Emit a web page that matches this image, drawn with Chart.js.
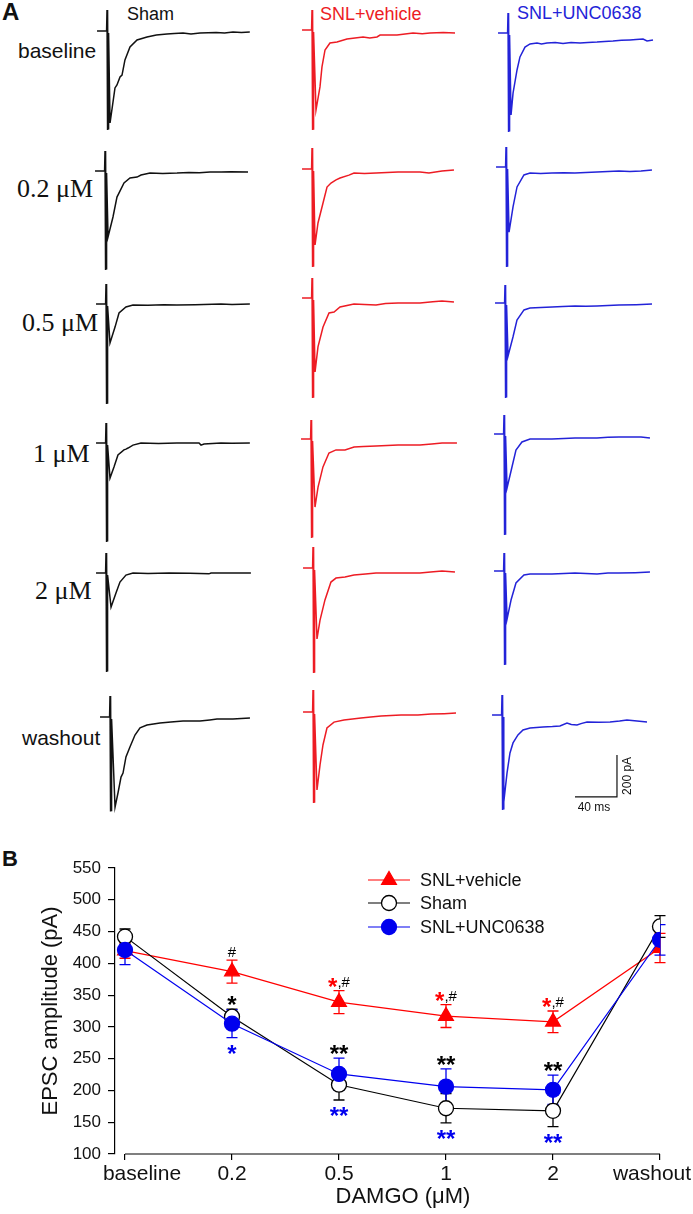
<!DOCTYPE html>
<html><head><meta charset="utf-8">
<script src="https://cdn.jsdelivr.net/npm/chart.js@4.4.1/dist/chart.umd.min.js"></script>
<style>
html,body{margin:0;padding:0;background:#fff}
body{position:relative;width:693px;height:1214px;overflow:hidden;font-family:"Liberation Sans",Arial,sans-serif;color:#111}
.t{position:absolute;white-space:nowrap;line-height:1}
.s{font-family:"Liberation Serif","Times New Roman",serif;font-size:26px}
canvas{position:absolute}
</style></head><body>
<div class="t" style="left:2px;top:0px;font-size:24px;font-weight:bold">A</div>
<div class="t" style="left:127px;top:5px;font-size:18px">Sham</div>
<div class="t" style="left:320px;top:5px;font-size:18px;color:#ed1c24">SNL+vehicle</div>
<div class="t" style="left:517px;top:4px;font-size:18px;color:#2323d8">SNL+UNC0638</div>
<div class="t" style="left:18px;top:40px;font-size:21px">baseline</div>
<div class="t s" style="left:17px;top:176px">0.2 μM</div>
<div class="t s" style="left:22px;top:310px">0.5 μM</div>
<div class="t s" style="left:33px;top:441px">1 μM</div>
<div class="t s" style="left:35px;top:578px">2 μM</div>
<div class="t" style="left:22px;top:727px;font-size:21px">washout</div>
<div class="t" style="left:2px;top:848px;font-size:22px;font-weight:bold">B</div>
<canvas id="panelB" width="693" height="364" style="left:0;top:850px"></canvas>
<script>
// ---------------- DATA: panel A traces (time in ms, current in pA) ----------------
const GROUPS = ['Sham', 'SNL+vehicle', 'SNL+UNC0638'];
const CONDITIONS = ['baseline', '0.2 μM', '0.5 μM', '1 μM', '2 μM', 'washout'];
const PRE_BASELINE_MS = [-9.5, -0.4];            // short pre-stimulus baseline
const SCALEBAR = [40, 200];                        // 40 ms, 200 pA

// stimulus artifact [peak up, peak down] in pA
const SHAM_ARTIFACT = [[100,-471],[95,-471],[95,-476],[95,-471],[95,-471],[100,-450]];
const VEH_ARTIFACT  = [[95,-476],[100,-467],[95,-476],[90,-471],[100,-500],[105,-433]];
const UNC_ARTIFACT  = [[95,-471],[95,-476],[86,-452],[90,-481],[86,-448],[95,-452]];

const SHAM_TRACES = [
 [[2.9,-438],[7.6,-271],[9.5,-257],[12.4,-219],[14.3,-210],[17.1,-138],[21.9,-76],[28.6,-43],[38.1,-29],[47,-19],[57.1,-14],[64,-12],[72.4,-10],[80,-14],[88.6,-10],[104,-7],[112,-9],[120,-5],[128,-7],[136,-5]],
 [[2.9,-314],[7.6,-219],[11.4,-124],[18.1,-57],[23.8,-33],[30.5,-29],[34.3,-19],[42.9,-10],[55,-12],[68.6,-10],[80,-7],[90,-8],[100,-5],[110.5,-5],[120,-4],[136.2,-5]],
 [[3.8,-186],[8.6,-110],[12.4,-43],[19,-14],[25.7,-5],[40,-6],[55,-4],[67.6,-5],[85,-3],[109.5,0],[120,-2],[137,0]],
 [[3.8,-167],[7.6,-114],[11.4,-57],[17.1,-33],[19,-29],[21,-24],[25.7,-10],[33.3,0],[50,-2],[67.6,0],[88.6,0],[90.5,-10],[93.3,-5],[109.5,0],[120,-1],[137,0]],
 [[4.8,-162],[9.5,-95],[13.3,-43],[19,-10],[25.7,0],[40,-2],[60,0],[80,-1],[98,-4],[100,0],[120,0],[138,0]],
 [[4.8,-429],[7.6,-362],[10.5,-286],[12.4,-267],[15.2,-190],[19,-143],[23.8,-86],[28.6,-52],[35.2,-38],[47.6,-29],[58,-24],[69.5,-19],[85.7,-19],[95,-14],[101.9,-10],[117.1,-10],[125,-7],[133.3,-5]]
];
const VEH_TRACES = [
 [[3.8,-381],[7.6,-271],[9.5,-176],[12.4,-95],[17.1,-62],[23.8,-57],[33.3,-43],[48.6,-33],[55,-38],[61.9,-33],[64.8,-24],[81,-24],[96.2,-14],[105,-18],[112.4,-14],[125,-12],[136.2,-14]],
 [[2.9,-362],[5.7,-257],[10.5,-162],[14.3,-86],[18.1,-67],[22.9,-52],[26.7,-43],[35.2,-29],[40,-19],[50,-22],[61,-19],[81.9,-14],[102.9,-14],[111.4,-19],[123.8,-10],[135.2,-5]],
 [[2.9,-352],[5.7,-233],[10.5,-138],[16.2,-71],[21,-67],[26.7,-43],[40,-29],[50,-31],[61,-33],[70,-26],[81.9,-24],[102.9,-24],[115,-18],[123.8,-14],[135.2,-19]],
 [[3.8,-324],[6.7,-229],[11.4,-133],[17.1,-67],[23.8,-52],[32.4,-52],[41,-38],[50,-36],[61.9,-33],[82.9,-29],[103.8,-29],[115,-24],[124.8,-19],[139,-19]],
 [[3.8,-338],[6.7,-248],[11.4,-152],[17.1,-67],[21.9,-48],[30.5,-43],[39,-33],[50,-28],[60,-24],[81,-24],[101.9,-24],[112,-19],[122.9,-14],[135.2,-19]],
 [[3.8,-371],[6.7,-252],[9.5,-157],[13.3,-76],[20,-48],[29.5,-38],[45.7,-29],[55,-24],[64.8,-19],[83.8,-14],[100,-14],[112.4,-10],[125,-8],[136.2,-5]]
];
const UNC_TRACES = [
 [[2.9,-390],[4.8,-286],[8.6,-176],[11.4,-114],[16.2,-67],[21,-52],[27.6,-48],[32,-52],[37.1,-48],[45,-45],[52.4,-50],[60,-45],[68.6,-48],[76,-45],[84.8,-43],[92,-40],[100,-38],[108,-35],[116.2,-33],[122,-31],[128.6,-29],[132.4,-38],[138.1,-33]],
 [[2.9,-310],[6.7,-190],[10.5,-95],[17.1,-38],[22.9,-29],[33,-31],[43.8,-29],[55,-27],[65.7,-29],[76,-26],[86.7,-24],[97,-21],[107.6,-19],[118,-21],[128.6,-19],[139,-14]],
 [[2.9,-252],[7.6,-162],[11.4,-81],[18.1,-33],[23.8,-24],[34,-21],[44.8,-19],[55,-17],[66.7,-14],[77,-16],[87.6,-14],[98,-12],[108.6,-10],[125,-8],[140,-5]],
 [[2.9,-257],[7.6,-157],[11.4,-76],[17.1,-38],[24.8,-24],[35,-24],[45.7,-24],[57,-21],[67.6,-19],[78,-19],[88.6,-19],[99,-16],[109.5,-14],[120,-14],[130.5,-14],[139,-19]],
 [[2.9,-229],[6.7,-138],[11.4,-57],[19,-19],[24.8,-14],[35,-14],[45.7,-14],[57,-12],[67.6,-10],[78,-12],[88.6,-14],[99,-10],[109.5,-10],[125,-8],[139,-5]],
 [[1.9,-414],[4.8,-276],[7.6,-181],[10.5,-133],[15.2,-95],[20,-71],[26.7,-62],[39,-57],[48,-55],[55.2,-52],[61.9,-38],[66,-45],[71.4,-48],[76,-40],[81,-33],[92,-35],[102.9,-33],[112,-29],[119,-24],[128.6,-29],[138.1,-33]]
];

// ---------------- DATA: panel B ----------------
const X_LABELS = ['baseline', '0.2', '0.5', '1', '2', 'washout'];
const Y_RANGE = [100, 550];
const Y_STEP = 50;
const VEH_MEAN  = [420, 387, 339, 317, 308, 424];
const VEH_SEM   = [12, 18, 18, 18, 17, 23];
const SHAM_MEAN = [442, 316, 209, 172, 168, 458];
const SHAM_SEM  = [12, 12, 24, 23, 25, 17];
const UNC_MEAN  = [421, 305, 226, 206, 201, 437];
const UNC_SEM   = [23, 22, 25, 28, 23, 24];
const SIG_VEH  = ['', '#', '*,#', '*,#', '*,#', ''];
const SIG_SHAM = ['', '*', '**', '**', '**', ''];
const SIG_UNC  = ['', '*', '**', '**', '**', ''];

// ---------------- LAYOUT (positions / styles) ----------------
const FONT = '"Liberation Sans", Arial, sans-serif';
Chart.defaults.font.family = FONT;
const TRACE_COLORS = ['#111111', '#ed1c24', '#2323d8'];
const ART_X = [[107,105,106,106,106,110],[312,312,312,311,313,313],[508,506,505,504,504,502]];
const BASE_Y = [[31,171,304,443,573,717],[30,169,298,439,568,712],[33,167,303,434,571,715]];
const MS_PX = 42 / SCALEBAR[0], PA_PX = 42 / SCALEBAR[1];
const CW = 175, CH = 150, LPAD = 15, TPAD = 30;
const XMIN = -LPAD / MS_PX, XMAX = XMIN + CW / MS_PX;
const YMAX = TPAD / PA_PX, YMIN = YMAX - CH / PA_PX;
const SCALEBAR_AT = [109.5, -390]; // corner of scale bar, in washout UNC trace units

const scaleBarPlugin = {
  id: 'scalebar',
  afterDatasetsDraw(chart) {
    const {ctx, scales: {x, y}} = chart;
    const x1 = x.getPixelForValue(SCALEBAR_AT[0]), x0 = x.getPixelForValue(SCALEBAR_AT[0] - SCALEBAR[0]);
    const y0 = y.getPixelForValue(SCALEBAR_AT[1]), y1 = y.getPixelForValue(SCALEBAR_AT[1] + SCALEBAR[1]);
    ctx.save();
    ctx.strokeStyle = '#111'; ctx.lineWidth = 1.2;
    ctx.beginPath(); ctx.moveTo(x0, y0); ctx.lineTo(x1, y0); ctx.lineTo(x1, y1); ctx.stroke();
    ctx.fillStyle = '#111'; ctx.font = '12px ' + FONT; ctx.textAlign = 'center'; ctx.textBaseline = 'top';
    ctx.fillText(SCALEBAR[0] + ' ms', (x0 + x1) / 2 - 2, y0 + 5);
    ctx.translate(x1 + 11, (y0 + y1) / 2); ctx.rotate(-Math.PI / 2); ctx.textBaseline = 'middle';
    ctx.fillText(SCALEBAR[1] + ' pA', 0, 0);
    ctx.restore();
  }
};

function traceChart(col, row, art, pts) {
  const cv = document.createElement('canvas');
  cv.width = CW; cv.height = CH;
  cv.style.left = (ART_X[col][row] - LPAD) + 'px';
  cv.style.top = (BASE_Y[col][row] - TPAD) + 'px';
  document.body.appendChild(cv);
  // pre-stimulus baseline, then the (thick) stimulus artifact, then the EPSC
  const data = [[PRE_BASELINE_MS[0], 0], [PRE_BASELINE_MS[1], 0], [0, art[0]], [0.35, art[1]],
                [0.75, art[0] - 5], [1.15, art[1] + 5], [1.5, -10]]
    .concat(pts).map(([x, y]) => ({x, y}));
  new Chart(cv, {
    type: 'line',
    data: {datasets: [{data, borderColor: TRACE_COLORS[col], borderWidth: 1.5, pointRadius: 0, tension: 0, fill: false}]},
    options: {
      responsive: false, animation: false, devicePixelRatio: 1, events: [],
      layout: {padding: 0},
      plugins: {legend: {display: false}, tooltip: {enabled: false}},
      scales: {x: {type: 'linear', display: false, min: XMIN, max: XMAX}, y: {display: false, min: YMIN, max: YMAX}}
    },
    plugins: (col === 2 && row === 5) ? [scaleBarPlugin] : []
  });
}
const ALL_TRACES = [SHAM_TRACES, VEH_TRACES, UNC_TRACES];
const ALL_ART = [SHAM_ARTIFACT, VEH_ARTIFACT, UNC_ARTIFACT];
for (let c = 0; c < 3; c++) for (let r = 0; r < CONDITIONS.length; r++) traceChart(c, r, ALL_ART[c][r], ALL_TRACES[c][r]);

// ---------------- Panel B ----------------
const SERIES = [
  {name: 'SNL+vehicle', mean: VEH_MEAN, sem: VEH_SEM, color: '#ff0000', fill: '#ff0000', style: 'triangle', r: 8.5},
  {name: 'Sham', mean: SHAM_MEAN, sem: SHAM_SEM, color: '#000000', fill: '#ffffff', style: 'circle', r: 7.5},
  {name: 'SNL+UNC0638', mean: UNC_MEAN, sem: UNC_SEM, color: '#0000ee', fill: '#0000ee', style: 'circle', r: 7.5}
];
const LABEL_DX = [17, 0, 0, 0, 0, -8];
const LEGEND_Y = [30, 53, 77], LEGEND_X = [368, 410, 420];

function marker(ctx, s, x, y) {
  ctx.save(); ctx.fillStyle = s.fill; ctx.strokeStyle = s.color; ctx.lineWidth = 1.3;
  ctx.beginPath();
  if (s.style === 'triangle') {
    const r = s.r;
    ctx.moveTo(x, y - r); ctx.lineTo(x + r * 0.866, y + r * 0.5); ctx.lineTo(x - r * 0.866, y + r * 0.5); ctx.closePath();
  } else ctx.arc(x, y, s.r, 0, Math.PI * 2);
  ctx.fill(); ctx.stroke(); ctx.restore();
}
function drawSig(ctx, str, cx, cy, starColor, otherColor) {
  const parts = [...str].map(ch => ({ch, font: ch === '*' ? 'bold 24px ' + FONT : '15px ' + FONT, color: ch === '*' ? starColor : otherColor}));
  let total = 0;
  parts.forEach(p => { ctx.font = p.font; p.w = ctx.measureText(p.ch).width; total += p.w; });
  let x = cx - total / 2;
  ctx.textAlign = 'left'; ctx.textBaseline = 'alphabetic';
  parts.forEach(p => {
    ctx.font = p.font; ctx.fillStyle = p.color;
    const base = p.ch === '*' ? cy + 0.54 * 24 : cy + 0.36 * 15;
    ctx.fillText(p.ch, x, base); x += p.w;
  });
}

const bPlugin = {
  id: 'bExtras',
  beforeDatasetsDraw(chart) {
    const {ctx, chartArea, scales: {x, y}} = chart;
    ctx.save();
    ctx.strokeStyle = '#000'; ctx.lineWidth = 1.2;
    ctx.beginPath();
    ctx.moveTo(x.getPixelForValue(0), chartArea.bottom);
    ctx.lineTo(x.getPixelForValue(X_LABELS.length - 1), chartArea.bottom);
    ctx.stroke();
    SERIES.forEach(s => {
      ctx.strokeStyle = s.color; ctx.lineWidth = 1.3;
      s.mean.forEach((m, i) => {
        const px = x.getPixelForValue(i);
        const top = y.getPixelForValue(m + s.sem[i]), bot = y.getPixelForValue(m - s.sem[i]);
        ctx.beginPath();
        ctx.moveTo(px, top); ctx.lineTo(px, bot);
        ctx.moveTo(px - 5.5, top); ctx.lineTo(px + 5.5, top);
        ctx.moveTo(px - 5.5, bot); ctx.lineTo(px + 5.5, bot);
        ctx.stroke();
      });
    });
    ctx.restore();
  },
  afterDatasetsDraw(chart) {
    const {ctx, scales: {x, y}} = chart;
    ctx.save();
    X_LABELS.forEach((_, i) => {
      const px = x.getPixelForValue(i);
      if (SIG_VEH[i]) drawSig(ctx, SIG_VEH[i], px, y.getPixelForValue(VEH_MEAN[i] + VEH_SEM[i]) - 9, '#ff0000', '#000');
      const hi = Math.max(SHAM_MEAN[i] + SHAM_SEM[i], UNC_MEAN[i] + UNC_SEM[i]);
      const lo = Math.min(SHAM_MEAN[i] - SHAM_SEM[i], UNC_MEAN[i] - UNC_SEM[i]);
      if (SIG_SHAM[i]) drawSig(ctx, SIG_SHAM[i], px, y.getPixelForValue(hi) - 9, '#000', '#000');
      if (SIG_UNC[i]) drawSig(ctx, SIG_UNC[i], px, y.getPixelForValue(lo) + 11, '#0000ee', '#0000ee');
    });
    ctx.restore();
  },
  afterDraw(chart) {
    const {ctx, chartArea, scales: {x}} = chart;
    ctx.save();
    ctx.fillStyle = '#111'; ctx.textAlign = 'center'; ctx.textBaseline = 'alphabetic';
    ctx.font = '21px ' + FONT;
    X_LABELS.forEach((lab, i) => ctx.fillText(lab, x.getPixelForValue(i) + LABEL_DX[i], chartArea.bottom + 26));
    ctx.font = '22px ' + FONT;
    ctx.fillText('DAMGO (μM)', 403, chartArea.bottom + 49);
    SERIES.forEach((s, k) => {
      const ly = LEGEND_Y[k];
      ctx.strokeStyle = s.color; ctx.lineWidth = 1.2;
      ctx.beginPath(); ctx.moveTo(LEGEND_X[0], ly); ctx.lineTo(LEGEND_X[1], ly); ctx.stroke();
      marker(ctx, s, (LEGEND_X[0] + LEGEND_X[1]) / 2, ly);
      ctx.fillStyle = '#111'; ctx.font = '18px ' + FONT; ctx.textAlign = 'left'; ctx.textBaseline = 'middle';
      ctx.fillText(s.name, LEGEND_X[2], ly + 1);
    });
    ctx.restore();
  }
};

new Chart(document.getElementById('panelB'), {
  type: 'line',
  data: {
    datasets: SERIES.slice().reverse().map(s => ({
      label: s.name,
      data: s.mean.map((v, i) => ({x: i, y: v})),
      borderColor: s.color, borderWidth: 1.2, tension: 0, fill: false,
      pointStyle: s.style, pointRadius: s.r, pointBorderColor: s.color,
      pointBackgroundColor: s.fill, pointBorderWidth: 1.3
    }))
  },
  options: {
    responsive: false, animation: false, devicePixelRatio: 1, events: [],
    layout: {padding: {top: 18, right: 33, left: 0, bottom: 0}},
    plugins: {legend: {display: false}, tooltip: {enabled: false}},
    scales: {
      x: {
        type: 'linear', min: -0.0935, max: X_LABELS.length - 1,
        afterBuildTicks(s) { s.ticks = X_LABELS.map((_, i) => ({value: i})); },
        afterFit(s) { s.height = 60; },
        ticks: {display: false},
        grid: {drawOnChartArea: false, drawTicks: true, tickLength: 6, color: '#000', lineWidth: 1.2},
        border: {display: false}
      },
      y: {
        min: Y_RANGE[0], max: Y_RANGE[1],
        afterFit(s) { s.width = 115; },
        ticks: {stepSize: Y_STEP, font: {size: 17}, color: '#111', padding: 7},
        grid: {drawOnChartArea: false, drawTicks: true, tickLength: 7, color: '#000', lineWidth: 1.2},
        border: {display: true, color: '#000', width: 1.2},
        title: {display: true, text: 'EPSC amplitude (pA)', font: {size: 22}, color: '#111', padding: {top: 38, bottom: 0}}
      }
    }
  },
  plugins: [bPlugin]
});
</script>
</body></html>
